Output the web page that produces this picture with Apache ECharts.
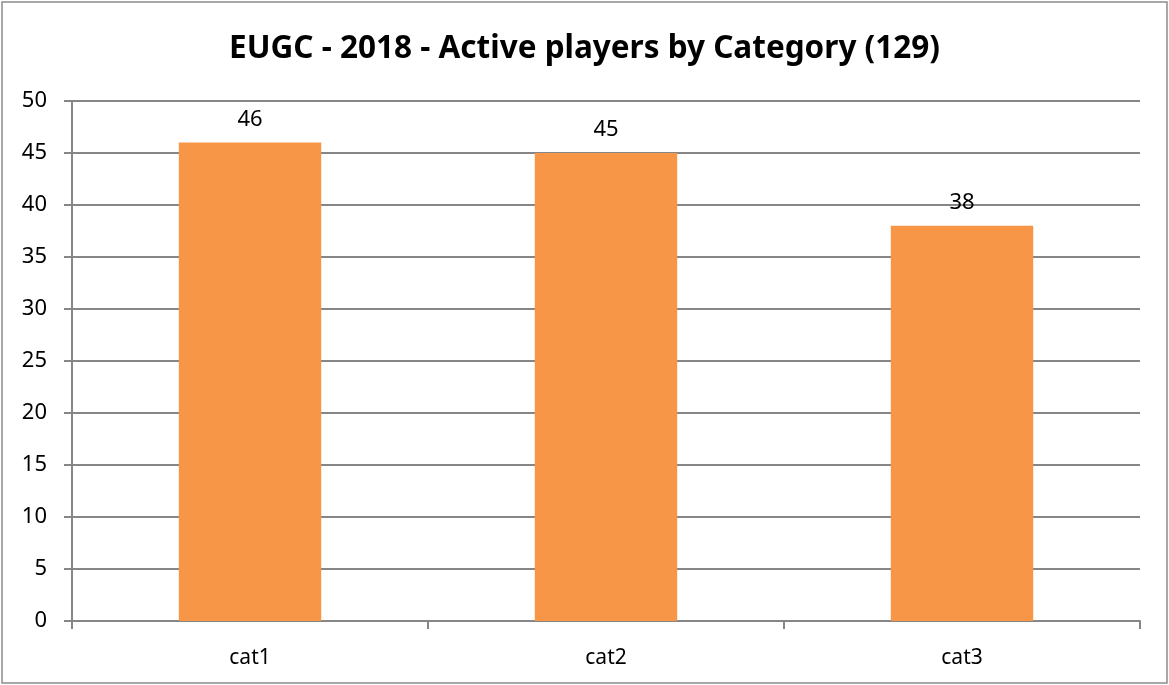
<!DOCTYPE html>
<html>
<head>
<meta charset="utf-8">
<script src="https://cdn.jsdelivr.net/npm/echarts@6/dist/echarts.min.js"></script>
<style>
    html, body { margin: 0; padding: 0; background: #fff; }
    #chart { width: 1169px; height: 685px; }
</style>
</head>
<body>
<div id="chart"></div>
<script>
    var categories = ['cat1', 'cat2', 'cat3'];
    var players = [46, 45, 38];
    var titleText = 'EUGC - 2018 - Active players by Category (129)';

    var myChart = echarts.init(document.getElementById('chart'));
    var option = {
        animation: false,
        textStyle: { fontFamily: 'Noto Sans' },
        title: {
            text: titleText,
            left: 'center',
            top: 28,
            textStyle: { fontSize: 31.5, fontWeight: 'bold', color: '#000', fontFamily: 'Noto Sans' }
        },
        graphic: [{
            type: 'rect',
            shape: { x: 2, y: 2, width: 1165, height: 681 },
            style: { fill: 'none', stroke: '#8c8c8c', lineWidth: 1.5 }
        }],
        grid: { left: 72, right: 29, top: 101, bottom: 64 },
        xAxis: {
            type: 'category',
            data: categories,
            axisLine: { lineStyle: { color: '#868686', width: 2 } },
            axisTick: { show: true, length: 8, lineStyle: { color: '#868686', width: 2 } },
            axisLabel: { color: '#000', fontSize: 21, margin: 27 }
        },
        yAxis: {
            type: 'value',
            min: 0,
            max: 50,
            interval: 5,
            axisLine: { show: true, lineStyle: { color: '#868686', width: 2 } },
            axisTick: { show: true, length: 8, lineStyle: { color: '#868686', width: 2 } },
            splitLine: { lineStyle: { color: '#868686', width: 2 } },
            axisLabel: { color: '#000', fontSize: 22, margin: 25 }
        },
        series: [{
            type: 'bar',
            data: players,
            barWidth: '40%',
            itemStyle: { color: '#F79646' },
            label: { show: true, position: 'top', distance: 12, color: '#000', fontSize: 22 }
        }]
    };
    myChart.setOption(option);
</script>
</body>
</html>
